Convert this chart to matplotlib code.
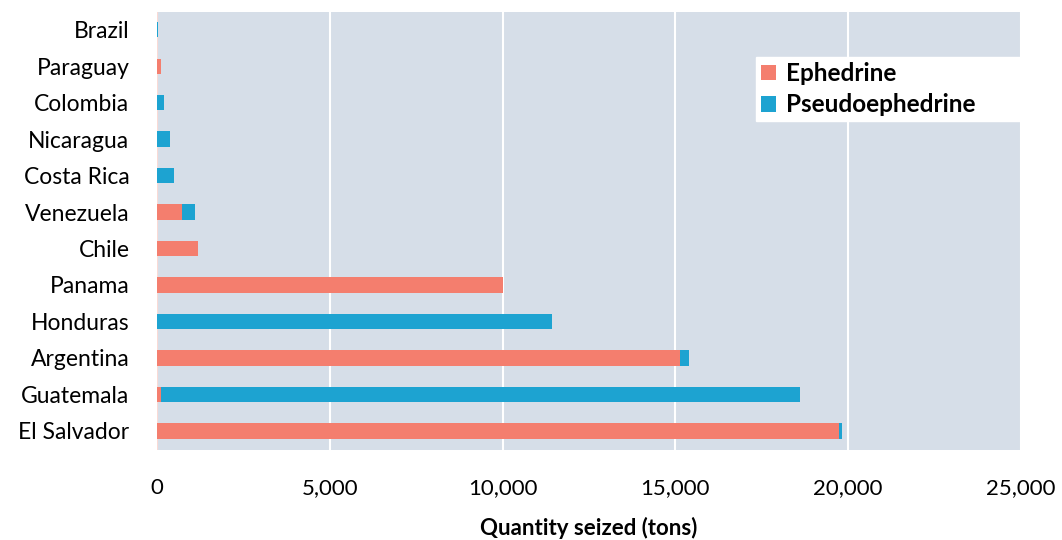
import numpy as np
from matplotlib import pyplot as plt

plt.rcParams['font.family'] = ['Lato', 'DejaVu Sans']

countries = ['El Salvador', 'Guatemala', 'Argentina', 'Honduras', 'Panama', 'Chile',
             'Venezuela', 'Costa Rica', 'Nicaragua', 'Colombia', 'Paraguay', 'Brazil']
ephedrine = [19740, 120, 15150, 0, 10000, 1170, 730, 0, 0, 0, 120, 0]
pseudo = [100, 18480, 250, 11430, 0, 0, 370, 480, 360, 190, 0, 30]
xticks = [0, 5000, 10000, 15000, 20000, 25000]

red = '#F47E6E'
blue = '#1DA3D1'

fig = plt.figure(figsize=(10.62, 5.4), dpi=100)
ax = fig.add_axes([0.148, 0.167, 0.813, 0.811])
ax.set_facecolor('#D6DEE8')

y = np.arange(len(countries))
ax.barh(y, ephedrine, height=0.42, color=red, label='Ephedrine', zorder=3)
ax.barh(y, pseudo, height=0.42, left=ephedrine, color=blue, label='Pseudoephedrine', zorder=3)

ax.set_xlim(0, 25000)
ax.set_ylim(-0.52, len(countries) - 0.51)
ax.set_xticks(xticks)
ax.set_xticklabels([f'{v:,}' for v in xticks], fontsize=16)
ax.set_yticks(y)
ax.set_yticklabels(countries, fontsize=16.5)
ax.tick_params(length=0)
ax.tick_params(axis='x', pad=20)
ax.tick_params(axis='y', pad=20)
ax.grid(axis='x', color='white', linewidth=1.5, zorder=1)
for s in ax.spines.values():
    s.set_visible(False)
ax.axvline(0, color='#FADAD5', linewidth=1.5, zorder=2)

ax.set_xlabel('Quantity seized (tons)', fontsize=16, fontweight='bold', labelpad=14)

leg = ax.legend(loc='upper left', bbox_to_anchor=(0.694, 0.749, 0.306, 0.148), mode='expand',
                borderaxespad=0, frameon=True, fancybox=False, edgecolor='white', framealpha=1,
                handlelength=0.6, handleheight=0.6, handletextpad=0.4,
                borderpad=0.2, labelspacing=0.35, prop={'size': 17.5, 'weight': 'bold'})

fig.savefig('out.png', dpi=100)
